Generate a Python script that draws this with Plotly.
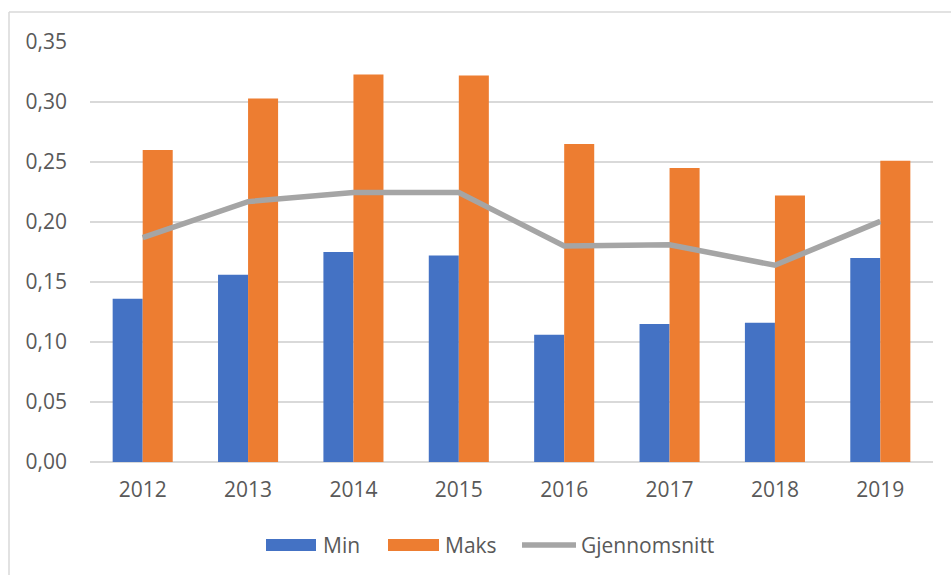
import plotly.graph_objects as go

# Data
years = ["2012", "2013", "2014", "2015", "2016", "2017", "2018", "2019"]
min_values = [0.136, 0.156, 0.175, 0.172, 0.106, 0.115, 0.116, 0.170]
maks_values = [0.260, 0.303, 0.323, 0.322, 0.265, 0.245, 0.222, 0.251]
snitt_values = [0.187, 0.217, 0.2245, 0.2245, 0.180, 0.181, 0.164, 0.2005]
y_ticks = [0.0, 0.05, 0.10, 0.15, 0.20, 0.25, 0.30, 0.35]
y_tick_text = ["0,00", "0,05", "0,10", "0,15", "0,20", "0,25", "0,30", "0,35"]

BLUE = "#4472C4"
ORANGE = "#ED7D31"
GREY = "#A5A5A5"
TEXT = "#595959"
FONT = "Open Sans"
FS = 21

W, H = 951, 575
L, R, T, B = 90, 18, 42, 113
PW, PH = W - L - R, H - T - B


def px(xp):
    return (xp - L) / PW


def py(yp):
    return (H - B - yp) / PH


fig = go.Figure()
fig.add_trace(go.Bar(x=years, y=min_values, name="Min", marker_color=BLUE,
                     marker_line_width=0))
fig.add_trace(go.Bar(x=years, y=maks_values, name="Maks", marker_color=ORANGE,
                     marker_line_width=0))
fig.add_trace(go.Scatter(x=years, y=snitt_values, name="Gjennomsnitt",
                         mode="lines", line=dict(color=GREY, width=5.5)))

shapes = [
    # chart frame (top and left edges)
    dict(type="line", xref="paper", yref="paper", x0=px(9), x1=px(960),
         y0=py(12), y1=py(12), line=dict(color="#D9D9D9", width=1.5)),
    dict(type="line", xref="paper", yref="paper", x0=px(9), x1=px(9),
         y0=py(12), y1=py(590), line=dict(color="#D9D9D9", width=1.5)),
    # legend keys
    dict(type="rect", xref="paper", yref="paper", x0=px(266), x1=px(316),
         y0=py(551), y1=py(539), fillcolor=BLUE, line_width=0),
    dict(type="rect", xref="paper", yref="paper", x0=px(388), x1=px(439),
         y0=py(551), y1=py(539), fillcolor=ORANGE, line_width=0),
    dict(type="line", xref="paper", yref="paper", x0=px(522), x1=px(576),
         y0=py(545), y1=py(545), line=dict(color=GREY, width=5.5)),
]

annotations = []
for label, xl in [("Min", 321), ("Maks", 443), ("Gjennomsnitt", 579)]:
    annotations.append(dict(text=label, xref="paper", yref="paper", x=px(xl),
                            y=py(545), xanchor="left", yanchor="middle",
                            showarrow=False, font=dict(family=FONT, size=FS, color=TEXT)))

fig.update_layout(
    width=W, height=H,
    margin=dict(l=L, r=R, t=T, b=B),
    paper_bgcolor="white", plot_bgcolor="white",
    barmode="group", bargap=0.43, bargroupgap=0,
    showlegend=False,
    font=dict(family=FONT, size=FS, color=TEXT),
    shapes=shapes, annotations=annotations,
)
fig.update_xaxes(showgrid=False, showline=False, ticks="", ticklabelstandoff=13,
                 tickfont=dict(family=FONT, size=FS, color=TEXT))
fig.update_yaxes(range=[0, 0.35], tickvals=y_ticks, ticktext=y_tick_text,
                 showgrid=True, gridcolor="#D9D9D9", gridwidth=1.5,
                 zeroline=True, zerolinecolor="#D9D9D9", zerolinewidth=1.5,
                 showline=False, ticks="", ticklabelstandoff=22,
                 tickfont=dict(family=FONT, size=FS, color=TEXT))

fig.write_html("out.html")
